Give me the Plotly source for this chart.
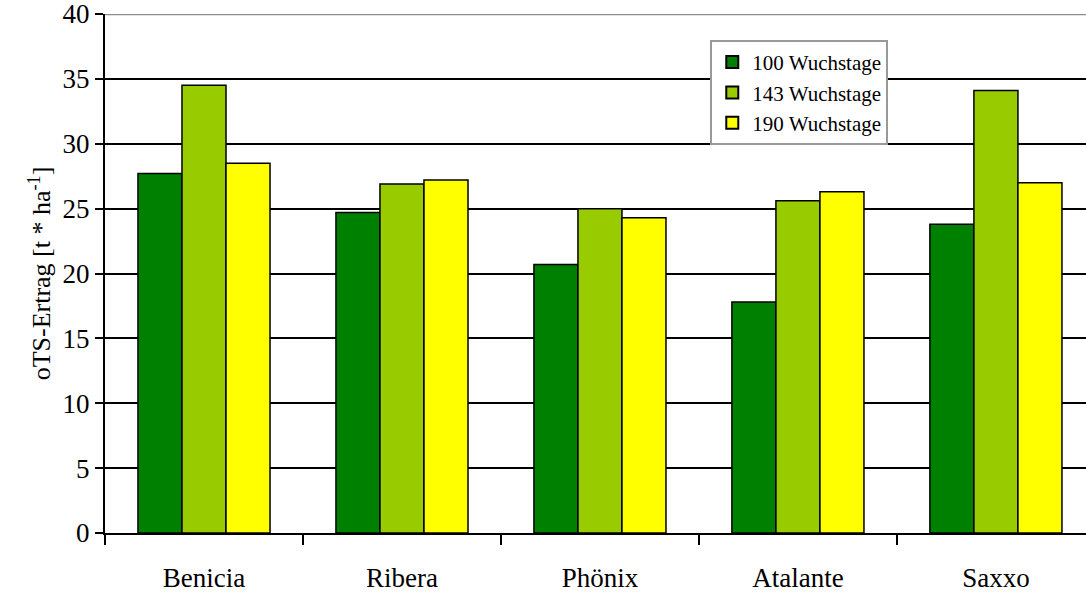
import plotly.graph_objects as go

categories = ["Benicia", "Ribera", "Phönix", "Atalante", "Saxxo"]
series_names = ["100 Wuchstage", "143 Wuchstage", "190 Wuchstage"]
v100 = [27.7, 24.7, 20.7, 17.8, 23.8]
v143 = [34.5, 26.9, 25.0, 25.6, 34.1]
v190 = [28.5, 27.2, 24.3, 26.3, 27.0]
colors = ["#008000", "#99CC00", "#FFFF00"]
y_ticks = [0, 5, 10, 15, 20, 25, 30, 35, 40]

fig = go.Figure()
for name, vals, col in zip(series_names, [v100, v143, v190], colors):
    fig.add_trace(go.Bar(
        x=categories, y=vals, name=name,
        marker=dict(color=col, line=dict(color="black", width=1.5)),
    ))

font_family = "Liberation Serif, Times New Roman, serif"
fig.update_layout(
    width=1086, height=593,
    margin=dict(l=105, r=0, t=14, b=60, autoexpand=False),
    paper_bgcolor="white", plot_bgcolor="white",
    barmode="group", bargap=0.333, bargroupgap=0,
    font=dict(family=font_family, color="black", size=26),
    showlegend=True,
    legend=dict(
        x=0.617, y=0.95, xanchor="left", yanchor="top",
        bgcolor="white", bordercolor="#999999", borderwidth=2,
        font=dict(family=font_family, size=21, color="black"),
        itemsizing="constant", tracegroupgap=0,
        entrywidth=200, entrywidthmode="pixels",
    ),
    xaxis=dict(
        type="category", range=[-0.5, 4.455], automargin=False,
        showline=True, linecolor="black", linewidth=2,
        ticks="outside", ticklen=10, tickwidth=2, tickcolor="black",
        tickson="boundaries", ticklabelstandoff=20,
        tickfont=dict(family=font_family, size=27),
        ticklabeloverflow="allow",
        showgrid=False,
    ),
    yaxis=dict(
        range=[0, 40], tickvals=y_ticks, automargin=False,
        showline=True, linecolor="black", linewidth=2,
        ticks="outside", ticklen=8, tickwidth=2, tickcolor="black",
        showgrid=True, gridcolor="black", gridwidth=1.5,
        zeroline=False,
        tickfont=dict(family=font_family, size=27),
        ticklabeloverflow="allow",
        title=dict(text="oTS-Ertrag [t * ha<sup>-1</sup>]", font=dict(family=font_family, size=26), standoff=4),
    ),
    shapes=[dict(type="line", xref="paper", yref="y", x0=0, x1=1, y0=40, y1=40,
                 line=dict(color="#8c8c8c", width=2.5), layer="above")],
)

fig.write_html("out.html", config={"displayModeBar": False},
               post_script="document.body.style.margin='0';document.body.style.overflow='hidden';")
